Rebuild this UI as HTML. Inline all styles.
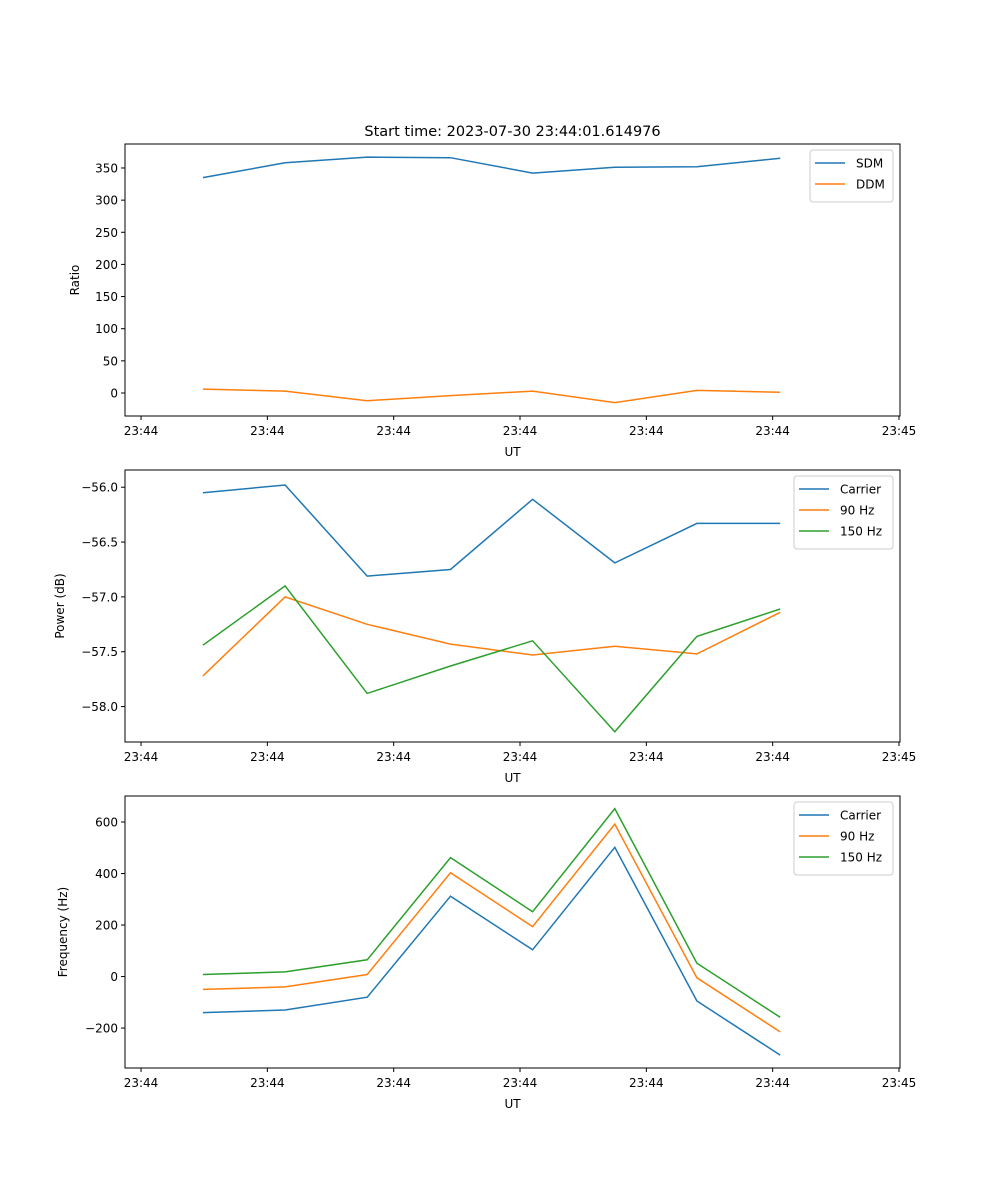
<!DOCTYPE html>
<html><head><meta charset="utf-8"><style>
body{margin:0;background:#fff;}
svg{display:block;font-family:"DejaVu Sans","Liberation Sans",sans-serif;}
</style></head><body>
<svg id="fig" width="1000" height="1200" viewBox="0 0 1000 1200" xmlns="http://www.w3.org/2000/svg"></svg>
<script>
const times = [0.49, 1.14, 1.79, 2.45, 3.10, 3.75, 4.40, 5.06];
const xTicks = [0, 1, 2, 3, 4, 5, 6];
const xTickLabels = ["23:44","23:44","23:44","23:44","23:44","23:44","23:45"];
const sdm = [335, 358, 367, 366, 342, 351, 352, 365];
const ddm = [6, 3, -12, -4, 3, -15, 4, 1];
const powCarrier = [-56.05, -55.98, -56.81, -56.75, -56.11, -56.69, -56.33, -56.33];
const pow90 = [-57.72, -57.0, -57.25, -57.43, -57.53, -57.45, -57.52, -57.14];
const pow150 = [-57.44, -56.9, -57.88, -57.63, -57.40, -58.23, -57.36, -57.11];
const freqCarrier = [-140, -130, -80, 312, 104, 502, -95, -305];
const freq90 = [-50, -40, 8, 403, 194, 592, -5, -215];
const freq150 = [8, 18, 65, 462, 252, 652, 52, -158];
const ticks1 = [0, 50, 100, 150, 200, 250, 300, 350];
const ticks2 = [-58.0, -57.5, -57.0, -56.5, -56.0];
const ticks3 = [-200, 0, 200, 400, 600];

const NS = "http://www.w3.org/2000/svg";
const svg = document.getElementById("fig");
function el(tag, attrs, parent) {
  const e = document.createElementNS(NS, tag);
  for (const k in attrs) e.setAttribute(k, attrs[k]);
  (parent || svg).appendChild(e);
  return e;
}
const L = 125, R = 900;
const xMin = -0.127, xMax = 6.008;
function xs(t) { return L + (t - xMin) / (xMax - xMin) * (R - L); }

function panel(cfg) {
  const g = el("g", {});
  
  
  const T = cfg.top, B = cfg.top + 272;
  const ys = v => B - (v - cfg.yMin) / (cfg.yMax - cfg.yMin) * (B - T);
  cfg.series.forEach(s => {
    const p = el("polyline", {points: s.vals.map((v, i) => xs(times[i]).toFixed(1) + "," + ys(v).toFixed(1)).join(" "), fill: "none", stroke: s.color, "stroke-width": 1.5}, g);
    
    
  });
  const frame = el("rect", {x: L, y: T, width: R - L, height: B - T, fill: "none", stroke: "#000", "stroke-width": 1}, g);
  
  
  xTicks.forEach((t, i) => {
    const x = xs(t);
    el("line", {x1: x, x2: x, y1: B, y2: B + 4, stroke: "#000"}, g);
    const tx = el("text", {x: x, y: B + 19, "font-size": 12, "text-anchor": "middle"}, g);
    tx.textContent = xTickLabels[i];
    
    
  });
  cfg.ticks.forEach(v => {
    const y = ys(v);
    el("line", {x1: L - 4, x2: L, y1: y, y2: y, stroke: "#000"}, g);
    const tx = el("text", {x: L - 7, y: y + 4.5, "font-size": 12, "text-anchor": "end"}, g);
    tx.textContent = cfg.fmt(v);
    
    
  });
  const xl = el("text", {x: (L + R) / 2, y: B + 40, "font-size": 12, "text-anchor": "middle"}, g);
  xl.textContent = "UT";
  
  
  const yx = cfg.ylabX, yc = (T + B) / 2;
  const yl = el("text", {x: yx, y: yc, "font-size": 12, "text-anchor": "middle", transform: "rotate(-90 " + yx + " " + yc + ")"}, g);
  yl.textContent = cfg.ylabel;
  
  
  // legend
  const lw = cfg.legW, lx = 893 - lw, ly = T + 6;
  const lg = el("g", {}, g);
  
  
  el("rect", {x: lx, y: ly, width: lw, height: 10 + cfg.series.length * 21, rx: 3, fill: "#fff", stroke: "#ccc", "stroke-width": 1}, lg);
  cfg.series.forEach((s, i) => {
    const yy = ly + 13 + i * 21;
    el("line", {x1: lx + 5, x2: lx + 35, y1: yy, y2: yy, stroke: s.color, "stroke-width": 1.5}, lg);
    const t = el("text", {x: lx + 46, y: yy + 4.5, "font-size": 12}, lg);
    t.textContent = s.label;
    
    
  });
}
const C1 = "#1f77b4", C2 = "#ff7f0e", C3 = "#2ca02c";
panel({name: "ratio-panel", top: 144, yMin: -35.8, yMax: 387.3, ticks: ticks1, fmt: v => String(v), ylabel: "Ratio", ylabX: 79, legW: 83,
  series: [{key: "sdm", label: "SDM", vals: sdm, color: C1}, {key: "ddm", label: "DDM", vals: ddm, color: C2}]});
panel({name: "power-panel", top: 470, yMin: -58.323, yMax: -55.843, ticks: ticks2, fmt: v => "\u2212" + Math.abs(v).toFixed(1), ylabel: "Power (dB)", ylabX: 64, legW: 99,
  series: [{key: "carrier", label: "Carrier", vals: powCarrier, color: C1}, {key: "90hz", label: "90 Hz", vals: pow90, color: C2}, {key: "150hz", label: "150 Hz", vals: pow150, color: C3}]});
panel({name: "frequency-panel", top: 796, yMin: -355, yMax: 701, ticks: ticks3, fmt: v => v < 0 ? "\u2212" + Math.abs(v) : String(v), ylabel: "Frequency (Hz)", ylabX: 67, legW: 99,
  series: [{key: "carrier", label: "Carrier", vals: freqCarrier, color: C1}, {key: "90hz", label: "90 Hz", vals: freq90, color: C2}, {key: "150hz", label: "150 Hz", vals: freq150, color: C3}]});
const title = el("text", {x: 512.5, y: 136, "font-size": 14.5, "text-anchor": "middle"});
title.textContent = "Start time: 2023-07-30 23:44:01.614976";


</script>
</body></html>
